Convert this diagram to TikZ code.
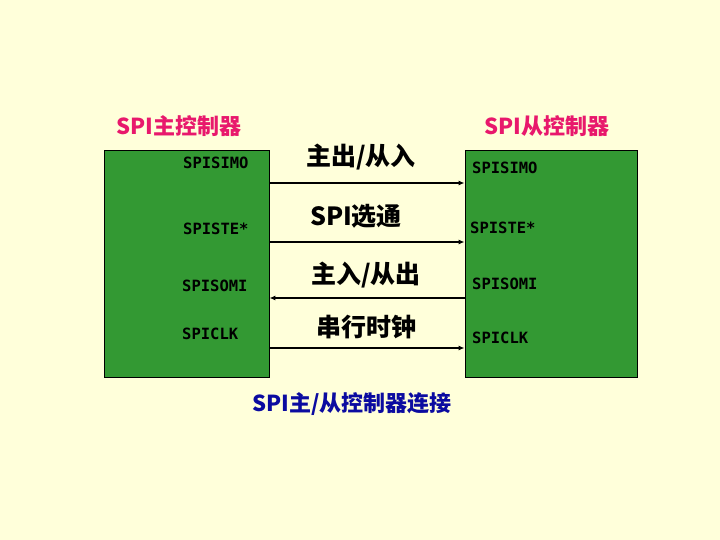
\documentclass[tikz,border=0pt]{standalone}
\usepackage{fontspec}
\newfontfamily\cjk{Noto Sans CJK SC}
\newfontfamily\pinfont{DejaVu Sans Mono}
\usetikzlibrary{arrows.meta}
\definecolor{bgyellow}{HTML}{FFFFDA}
\definecolor{boxgreen}{HTML}{339933}
\definecolor{titlepink}{HTML}{E8186C}
\definecolor{captionblue}{HTML}{0B0BA0}
\tikzset{
  ctrl/.style={draw=black, fill=boxgreen, line width=0.8pt, inner sep=0pt},
  pin/.style={anchor=west, inner sep=0pt, font=\pinfont\bfseries\fontsize{15.5}{15.5}\selectfont},
  sig/.style={line width=1.6pt, -{Latex[length=6pt,width=5pt]}},
  siglabel/.style={font=\cjk\bfseries\fontsize{25}{25}\selectfont},
  title/.style={font=\cjk\bfseries\fontsize{22}{22}\selectfont, text=titlepink}
}
\begin{document}
\begin{tikzpicture}[x=1pt,y=-1pt]
\fill[bgyellow] (0,0) rectangle (720,540);
\useasboundingbox (0,0) rectangle (720,540);
% controllers
\node[ctrl, minimum width=165pt, minimum height=227pt] (master) at (186.5,263.5) {};
\node[ctrl, minimum width=172pt, minimum height=227pt] (slave) at (551,263.5) {};
\node[title] (mtitle) at (179,126) {SPI主控制器};
\node[title] (stitle) at (547,126) {SPI从控制器};
% pins
\node[pin] (msimo) at (183,163) {SPISIMO};
\node[pin] (mste) at (183,229) {SPISTE*};
\node[pin] (msomi) at (182,286) {SPISOMI};
\node[pin] (mclk) at (182,334) {SPICLK};
\node[pin] (ssimo) at (472,168) {SPISIMO};
\node[pin] (sste) at (470,228) {SPISTE*};
\node[pin] (ssomi) at (472,284) {SPISOMI};
\node[pin] (sclk) at (472,338) {SPICLK};
% signals
\coordinate (ysimo) at (0,183);
\coordinate (yste) at (0,242);
\coordinate (ysomi) at (0,298);
\coordinate (yclk) at (0,348);
\draw[sig] (master.east |- ysimo) -- (slave.west |- ysimo);
\draw[sig] (master.east |- yste) -- (slave.west |- yste);
\draw[sig] (slave.west |- ysomi) -- (master.east |- ysomi);
\draw[sig] (master.east |- yclk) -- (slave.west |- yclk);
\node[siglabel] (lsimo) at (361,157) {主出/从入};
\node[siglabel] (lste) at (356,216) {SPI选通};
\node[siglabel] (lsomi) at (366,275) {主入/从出};
\node[siglabel] (lclk) at (366,327) {串行时钟};
\node[title, text=captionblue] (caption) at (352,404) {SPI主/从控制器连接};
\end{tikzpicture}
\end{document}
